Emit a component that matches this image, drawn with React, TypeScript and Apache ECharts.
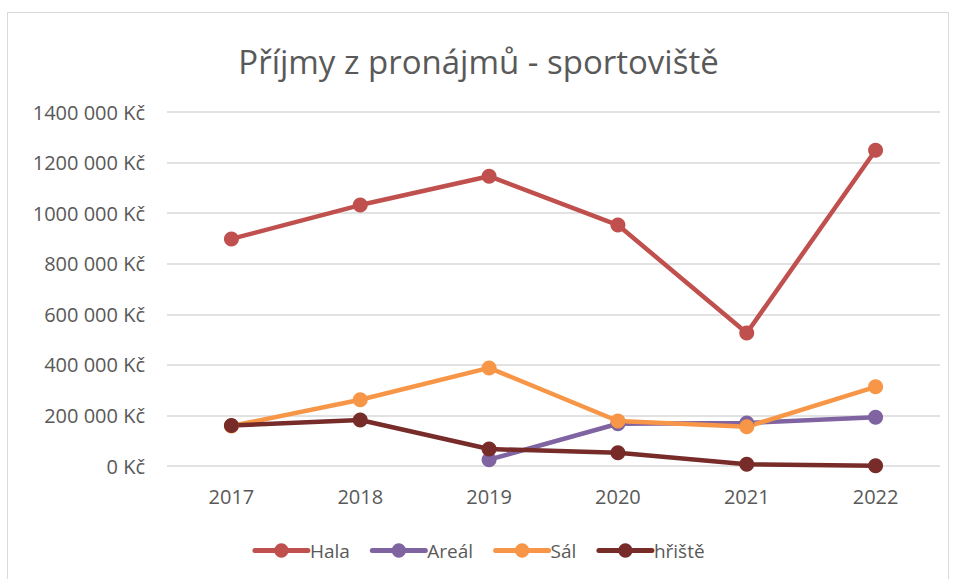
import React, { useEffect, useRef } from "react";
import * as echarts from "echarts";

const years = ["2017", "2018", "2019", "2020", "2021", "2022"];
const hala = [898000, 1032000, 1146000, 953000, 526000, 1249000];
const areal = [null, null, 25000, 167000, 170000, 193000];
const sal = [158000, 262000, 388000, 178000, 155000, 313000];
const hriste = [160000, 182000, 67000, 52000, 7000, 1000];
const yTickLabels = ["0 Kč", "200 000 Kč", "400 000 Kč", "600 000 Kč", "800 000 Kč", "1000 000 Kč", "1200 000 Kč", "1400 000 Kč"];

const seriesDefs = [
  { name: "Hala", data: hala, color: "#C0504D" },
  { name: "Areál", data: areal, color: "#8064A2" },
  { name: "Sál", data: sal, color: "#F79646" },
  { name: "hřiště", data: hriste, color: "#772C2A" },
];

const FONT = "'Open Sans', 'Noto Sans', sans-serif";

export default function App() {
  const ref = useRef<HTMLDivElement>(null);
  useEffect(() => {
    document.body.style.margin = "0";
    const chart = echarts.init(ref.current!, null, { renderer: "svg" });
    chart.setOption({
      animation: false,
      backgroundColor: "transparent",
      title: {
        text: "Příjmy z pronájmů - sportoviště",
        left: "center",
        top: 40,
        textStyle: { fontFamily: FONT, fontSize: 33, fontWeight: "normal", color: "#595959" },
      },
      legend: {
        top: 536,
        left: "center",
        itemWidth: 53,
        itemHeight: 18,
        itemGap: 20,
        lineStyle: { width: 5, cap: "round" },
        textStyle: { fontFamily: FONT, fontSize: 19, color: "#595959", padding: [0, 0, 0, -3] },
        data: seriesDefs.map((s) => s.name),
      },
      grid: { left: 167, right: 17, top: 112, bottom: 113 },
      xAxis: {
        type: "category",
        data: years,
        boundaryGap: true,
        axisLine: { show: false },
        axisTick: { show: false },
        axisLabel: { fontFamily: FONT, fontSize: 20, color: "#595959", margin: 20 },
      },
      yAxis: {
        type: "value",
        min: 0,
        max: 1400000,
        interval: 200000,
        axisLine: { show: false },
        axisTick: { show: false },
        splitLine: { lineStyle: { color: "#D9D9D9", width: 1.5 } },
        axisLabel: {
          fontFamily: FONT,
          fontSize: 20,
          color: "#595959",
          margin: 22,
          formatter: (v: number) => yTickLabels[Math.round(v / 200000)] ?? "",
        },
      },
      series: seriesDefs.map((s) => ({
        name: s.name,
        type: "line",
        data: s.data,
        symbol: "circle",
        symbolSize: 15,
        lineStyle: { width: 4.5, color: s.color, cap: "round" },
        itemStyle: { color: s.color },
        connectNulls: false,
      })),
    });
    return () => chart.dispose();
  }, []);
  return (
    <div style={{ position: "fixed", left: 0, top: 0, width: 957, height: 579, background: "#fff" }}>
      <div
        style={{
          position: "absolute",
          left: 7,
          top: 12,
          width: 942,
          height: 570,
          border: "1.5px solid #D9D9D9",
          boxSizing: "border-box",
        }}
      />
      <div ref={ref} style={{ position: "absolute", left: 0, top: 0, width: 957, height: 579 }} />
    </div>
  );
}
